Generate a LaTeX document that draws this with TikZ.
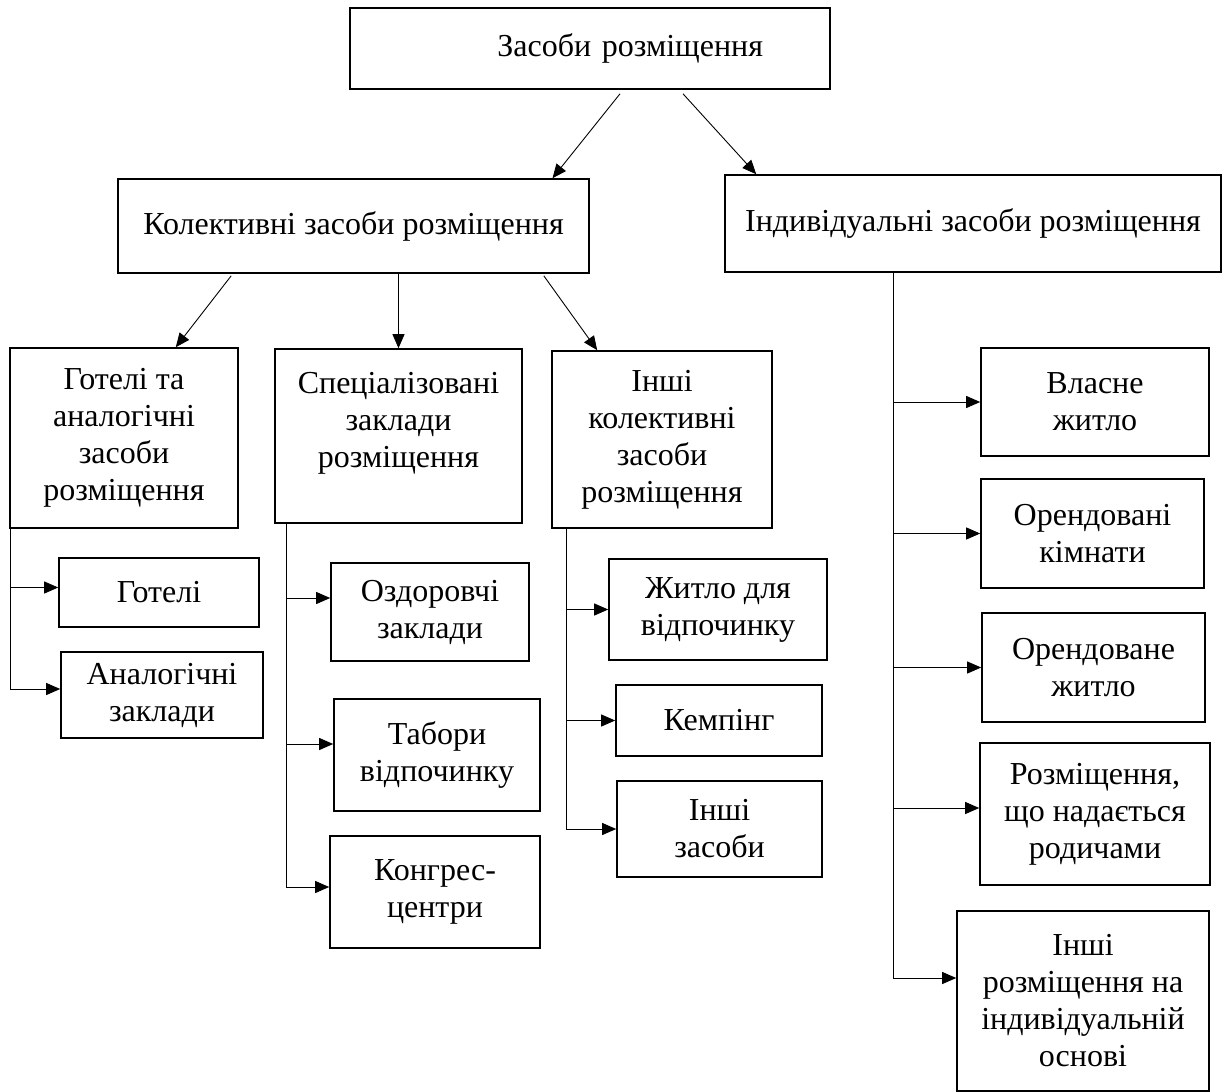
\documentclass[tikz,border=0pt]{standalone}
\usepackage{fontspec}
\setmainfont{Liberation Serif}
\usetikzlibrary{arrows.meta}
\begin{document}
\begin{tikzpicture}[x=1pt, y=-1pt,
  unit/.style={draw, line width=1.6pt, align=center, inner sep=0pt, font=\fontsize{32}{37}\selectfont},
  link/.style={-{Triangle[length=14pt,width=12pt]}, line width=0.9pt}]
  \useasboundingbox (0,0) rectangle (1229,1092);
  % Top levels
  \node[unit, minimum width=480pt, minimum height=81pt, text width=346pt, inner xsep=67pt, align=right] (root) at (590,48.5) {Засоби розміщення};
  \node[unit, minimum width=471pt, minimum height=94pt] (kol) at (353.5,226) {Колективні засоби розміщення};
  \node[unit, minimum width=496pt, minimum height=97pt] (ind) at (973,223.5) {Індивідуальні засоби розміщення};

  % Collective groups
  \node[unit, minimum width=228pt, minimum height=180pt] (hot) at (124,438) {Готелі та\\аналогічні\\засоби\\розміщення};
  \node[unit, minimum width=247pt, minimum height=174pt] (spec) at (398.5,436) {Спеціалізовані\\заклади\\розміщення\\[-5pt]};
  \node[unit, minimum width=220pt, minimum height=177pt] (inshk) at (662,439.5) {Інші\\колективні\\засоби\\розміщення};

  % Hotels group
  \node[unit, minimum width=200pt, minimum height=69pt] (hotels) at (159,592.5) {Готелі};
  \node[unit, minimum width=202pt, minimum height=86pt] (analog) at (162,695) {Аналогічні\\заклади};

  % Specialised group
  \node[unit, minimum width=198pt, minimum height=98pt] (ozdor) at (430,612) {Оздоровчі\\заклади};
  \node[unit, minimum width=206pt, minimum height=112pt] (tabory) at (437,755) {Табори\\відпочинку};
  \node[unit, minimum width=210pt, minimum height=112pt] (kongres) at (435,892) {Конгрес-\\центри};

  % Other collective group
  \node[unit, minimum width=218pt, minimum height=101pt] (zhytlo) at (718,609.5) {Житло для\\відпочинку};
  \node[unit, minimum width=206pt, minimum height=71pt] (kemping) at (719,720.5) {Кемпінг};
  \node[unit, minimum width=205pt, minimum height=96pt] (inshzas) at (719.5,829) {Інші\\засоби};

  % Individual group
  \node[unit, minimum width=228pt, minimum height=108pt] (vlasne) at (1095,402) {Власне\\житло};
  \node[unit, minimum width=223pt, minimum height=109pt] (orkimn) at (1092.5,533.5) {Орендовані\\кімнати};
  \node[unit, minimum width=223pt, minimum height=109pt] (orzhytlo) at (1093.5,667.5) {Орендоване\\житло};
  \node[unit, minimum width=230pt, minimum height=142pt] (rodych) at (1095,814) {Розміщення,\\що надається\\родичами};
  \node[unit, minimum width=252pt, minimum height=180pt] (inshroz) at (1083,1001) {Інші\\розміщення на\\індивідуальній\\основі};

  % Arrows from the top
  \draw[link] ([xshift=30pt,yshift=-4pt]root.south) -- ([xshift=199pt]kol.north);
  \draw[link] ([xshift=93pt,yshift=-4pt]root.south) -- ([xshift=32pt]ind.north west);
  \draw[link] ([xshift=114pt,yshift=-2pt]kol.south west) -- ([xshift=-63pt]hot.north east);
  \draw[link] (spec.north |- kol.south) -- (spec.north);
  \draw[link] ([xshift=-46pt,yshift=-2pt]kol.south east) -- ([xshift=46pt]inshk.north west);

  % Branches
  \draw[link] ([xshift=1pt]hot.south west) |- ([yshift=5pt]hotels.west);
  \draw[link] ([xshift=1pt]hot.south west) |- ([yshift=6pt]analog.west);
  \draw[link] ([xshift=12pt]spec.south west) |- ([yshift=14pt]ozdor.west);
  \draw[link] ([xshift=12pt]spec.south west) |- ([yshift=11pt]tabory.west);
  \draw[link] ([xshift=12pt]spec.south west) |- ([yshift=5pt]kongres.west);
  \draw[link] ([xshift=15pt]inshk.south west) |- (zhytlo.west);
  \draw[link] ([xshift=15pt]inshk.south west) |- (kemping.west);
  \draw[link] ([xshift=15pt]inshk.south west) |- (inshzas.west);
  \draw[link] ([xshift=-80pt]ind.south) |- (vlasne.west);
  \draw[link] ([xshift=-80pt]ind.south) |- (orkimn.west);
  \draw[link] ([xshift=-80pt]ind.south) |- (orzhytlo.west);
  \draw[link] ([xshift=-80pt]ind.south) |- ([yshift=6pt]rodych.west);
  \draw[link] ([xshift=-80pt]ind.south) |- ([yshift=23pt]inshroz.west);
\end{tikzpicture}
\end{document}
